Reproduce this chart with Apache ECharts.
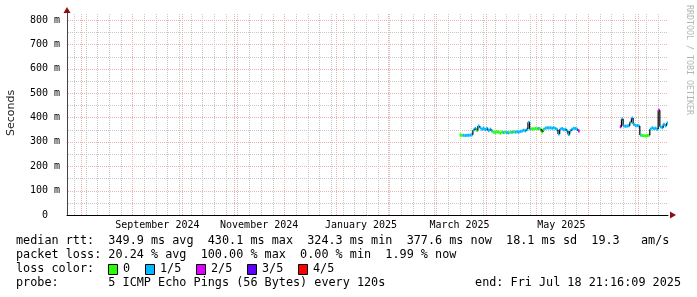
<!DOCTYPE html>
<html><head><meta charset="utf-8">
<script src="https://cdn.jsdelivr.net/npm/echarts@6/dist/echarts.min.js"></script>
<style>html,body{margin:0;padding:0;background:#fff}#c{width:697px;height:297px}</style>
</head><body><div id="c"></div>
<script>
// ---- data ----
const startTime = '2024-07-23T21:16:09Z';
const endTime = '2025-07-18T21:16:09Z';
const yTickValues = [0, 100, 200, 300, 400, 500, 600, 700, 800];
const monthLabelDates = ['2024-09-16', '2024-11-16', '2025-01-16', '2025-03-16', '2025-05-16'];
const monthNames = ['January','February','March','April','May','June','July','August','September','October','November','December'];

// daily median rtt (ms), segment 1 starts 2025-03-16
const seg1Start = '2025-03-16';
const seg1Median = [
  328,327,327,326,327,327,328,329,348,355,347,365,358,352,356,350,
  355,346,352,345,340,338,342,340,336,340,338,340,338,337,340,339,341,340,342,340,343,345,348,345,352,380,352,354,353,355,
  354,355,353,340,352,356,358,357,358,356,358,355,350,332,352,355,350,352,345,330,345,352,356,355,352,345
];
const seg1Loss = [
  0,0,1,1,1,1,1,1,1,1,0,1,1,1,1,1,
  1,1,1,1,0,0,0,0,0,0,1,0,1,1,0,1,0,1,1,1,1,1,1,1,1,1,1,0,0,0,
  0,1,0,0,0,1,1,1,1,1,1,1,1,1,1,1,1,1,1,1,1,1,1,1,1,2
];
// segment 2 starts 2025-06-20
const seg2Start = '2025-06-20';
const seg2Median = [
  362,394,365,364,365,366,380,398,372,366,367,365,
  328,326,325,324.3,326,327,352,358,354,356,352,430.1,362,358,372,366,377.6
];
const seg2Loss = [
  2,1,1,1,1,1,1,1,1,1,1,1,
  1,0,0,0,0,0,1,1,1,1,1,2,1,1,1,1,1
];
const lossColors = ['#26ff00', '#00b8ff', '#dd00ff', '#5e00ff', '#ff0000'];
const lossLabels = ['0', '1/5', '2/5', '3/5', '4/5'];

// ---- build ----
const DAY = 86400000;
const xMin = Date.parse(startTime), xMax = Date.parse(endTime);
const yMax = 828.7;
function buildSeg(start, med, loss) {
  const t = Date.parse(start);
  return med.map((v, i) => [t + i * DAY, t + (i + 1) * DAY, v, loss[i], i > 0 ? med[i - 1] : -1]);
}
const medianData = buildSeg(seg1Start, seg1Median, seg1Loss).concat(buildSeg(seg2Start, seg2Median, seg2Loss));

// grid: [orientation(0=vertical,1=horizontal), value, major]
const gridData = [];
for (let v = 50; v <= 800; v += 50) gridData.push([1, v, v % 100 === 0 ? 1 : 0]);
for (let t = Date.parse('2024-07-28'); t < xMax; t += 7 * DAY) gridData.push([0, t, 0]);
for (let y = 2024, m = 7; ; ) {
  const t = Date.UTC(y, m, 1);
  if (t > xMax) break;
  if (t > xMin) gridData.push([0, t, 1]);
  m++; if (m > 11) { m = 0; y++; }
}
const minorColor = '#c8c8c8', majorColor = '#f2b0b0';

const chart = echarts.init(document.getElementById('c'), null, { renderer: 'canvas' });
const mono = 'DejaVu Sans Mono';
const legendFont = '11.8px "' + mono + '"';
const graphics = [
  { type: 'text', x: 11, y: 113, rotation: Math.PI / 2,
    style: { text: 'Seconds', font: '11px "DejaVu Sans"', fill: '#222', align: 'center', verticalAlign: 'middle' } },
  { type: 'text', x: 689, y: 60, rotation: -Math.PI / 2,
    style: { text: 'RRDTOOL / TOBI OETIKER', font: '8.3px "DejaVu Sans Mono"', fill: '#b4b4b4', align: 'center', verticalAlign: 'middle' } },
  { type: 'text', x: 16, y: 241, style: { text: 'median rtt:  349.9 ms avg  430.1 ms max  324.3 ms min  377.6 ms now  18.1 ms sd  19.3   am/s', font: legendFont, fill: '#000', verticalAlign: 'middle' } },
  { type: 'text', x: 16, y: 255, style: { text: 'packet loss: 20.24 % avg  100.00 % max  0.00 % min  1.99 % now', font: legendFont, fill: '#000', verticalAlign: 'middle' } },
  { type: 'text', x: 16, y: 269, style: { text: 'loss color:', font: legendFont, fill: '#000', verticalAlign: 'middle' } },
  { type: 'text', x: 16, y: 283, style: { text: 'probe:       5 ICMP Echo Pings (56 Bytes) every 120s', font: legendFont, fill: '#000', verticalAlign: 'middle' } },
  { type: 'text', x: 681, y: 283, style: { text: 'end: Fri Jul 18 21:16:09 2025', font: legendFont, fill: '#000', align: 'right', verticalAlign: 'middle' } }
];
const boxX = [108, 145, 196, 247, 298];
lossLabels.forEach((lab, i) => {
  graphics.push({ type: 'rect', shape: { x: boxX[i] + 0.5, y: 264.5, width: 9, height: 10 }, style: { fill: lossColors[i], stroke: '#000', lineWidth: 1 } });
  graphics.push({ type: 'text', x: boxX[i] + 15, y: 269, style: { text: lab, font: legendFont, fill: '#000', verticalAlign: 'middle' } });
});

chart.setOption({
  animation: false,
  backgroundColor: '#fff',
  grid: { left: 67, right: 29, top: 13, bottom: 82, containLabel: false },
  xAxis: {
    type: 'value', min: xMin, max: xMax,
    axisLine: { show: true, onZero: false, lineStyle: { color: '#000', width: 1 } },
    axisTick: { show: false },
    splitLine: { show: false },
    axisLabel: {
      customValues: monthLabelDates.map(d => Date.parse(d)),
      margin: 5, fontFamily: mono, fontSize: 10, color: '#000',
      formatter: v => { const d = new Date(v); return monthNames[d.getUTCMonth()] + ' ' + d.getUTCFullYear(); }
    }
  },
  yAxis: {
    type: 'value', min: 0, max: yMax, interval: 100,
    axisLine: { show: true, lineStyle: { color: '#444', width: 1 } },
    axisTick: { show: false },
    splitLine: { show: false },
    axisLabel: {
      margin: 7, fontFamily: mono, fontSize: 10, color: '#000',
      formatter: v => (yTickValues.indexOf(v) < 0 ? '' : (v === 0 ? '0  ' : v + ' m'))
    }
  },
  graphic: graphics,
  series: [
    {
      type: 'custom', z: 1, silent: true, clip: false,
      encode: { x: 1 },
      data: gridData,
      renderItem: (params, api) => {
        const horiz = api.value(0), val = api.value(1), major = api.value(2);
        const style = { stroke: major ? majorColor : minorColor, lineWidth: 1, lineDash: [1, 1] };
        if (horiz) {
          const a = api.coord([xMin, val]), b = api.coord([xMax, val]);
          const y = Math.round(a[1]) + 0.5;
          return { type: 'line', z2: major ? 2 : 1, shape: { x1: a[0] + 1, y1: y, x2: b[0], y2: y }, style };
        }
        const a = api.coord([val, 0]), b = api.coord([val, yMax]);
        const x = Math.round(a[0]) + 0.5;
        return { type: 'line', z2: major ? 2 : 1, shape: { x1: x, y1: a[1], x2: x, y2: b[1] }, style };
      }
    },
    {
      type: 'line', data: [], z: 6, silent: true,
      markPoint: {
        silent: true, animation: false, label: { show: false },
        data: [
          { coord: [xMax, 0], symbol: 'path://M0,0 L10,5 L0,10 Z', symbolSize: [6, 7], symbolOffset: [5, 0], itemStyle: { color: '#8b1010' } },
          { coord: [xMin, yMax], symbol: 'path://M0,10 L5,0 L10,10 Z', symbolSize: [7, 6], symbolOffset: [0, -3], itemStyle: { color: '#8b1010' } }
        ]
      }
    },
    {
      type: 'custom', z: 5, clip: true, silent: true,
      encode: { x: [0, 1], y: 2 },
      data: medianData,
      renderItem: (params, api) => {
        const t0 = api.value(0), t1 = api.value(1), v = api.value(2), loss = api.value(3), pv = api.value(4);
        const p0 = api.coord([t0, v]), p1 = api.coord([t1, v]);
        const children = [];
        if (pv >= 0 && pv !== v) {
          const q = api.coord([t0, pv]);
          const big = Math.abs(pv - v) > 6;
          children.push({ type: 'line', shape: { x1: p0[0], y1: q[1], x2: p0[0], y2: p0[1] },
            style: { stroke: big ? '#000' : lossColors[loss], lineWidth: big ? 1.2 : 2.5 } });
        }
        children.push({ type: 'rect', shape: { x: p0[0], y: p0[1] - 1.5, width: p1[0] - p0[0], height: 3 }, style: { fill: lossColors[loss] } });
        return { type: 'group', children };
      }
    }
  ]
});
</script></body></html>
